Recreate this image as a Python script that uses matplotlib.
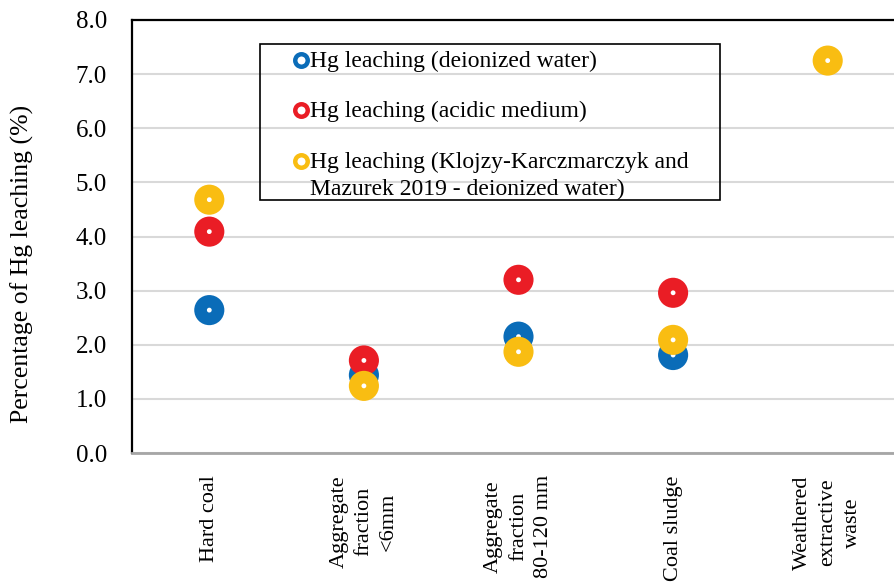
import matplotlib
matplotlib.use("Agg")
import matplotlib.pyplot as plt
from matplotlib.patches import Rectangle
from matplotlib.lines import Line2D

plt.rcParams['font.family'] = ['Liberation Serif', 'DejaVu Serif']

categories = ["Hard coal", "Aggregate\nfraction\n<6mm", "Aggregate\nfraction\n80-120 mm",
              "Coal sludge", "Weathered\nextractive\nwaste"]
deionized = [2.64, 1.44, 2.15, 1.81, None]
acidic = [4.09, 1.71, 3.20, 2.96, None]
klojzy = [4.68, 1.24, 1.87, 2.09, 7.25]

labels = ["Hg leaching (deionized water)",
          "Hg leaching (acidic medium)",
          "Hg leaching (Klojzy-Karczmarczyk and\nMazurek 2019 - deionized water)"]
colors = ["#0A6CB8", "#EA1D25", "#F9BD12"]

W, H = 894, 585
fig = plt.figure(figsize=(W / 100, H / 100), dpi=100)
ax = fig.add_axes([132 / W, 1 - 453 / H, (905 - 132) / W, (453 - 20) / H])

xs = list(range(1, len(categories) + 1))
for vals, c in zip([deionized, acidic, klojzy], colors):
    px = [x for x, v in zip(xs, vals) if v is not None]
    py = [v for v in vals if v is not None]
    ax.scatter(px, py, s=470, color=c, edgecolors='none', zorder=3)
    ax.scatter(px, py, s=12, color='white', edgecolors='none', zorder=3)

ax.set_xlim(0.5, len(categories) + 0.5)
ax.set_ylim(0, 8)
ax.set_yticks([i for i in range(9)])
ax.set_yticklabels([f"{i:.1f}" for i in range(9)], fontsize=18)
ax.set_xticks(xs)
ax.set_xticklabels(categories, rotation=90, fontsize=16, va='top', ha='center',
                   multialignment='center', linespacing=1.42)
ax.tick_params(axis='y', length=0, pad=18)
ax.tick_params(axis='x', length=0, pad=16)
ax.grid(axis='y', color='#D9D9D9', lw=1.5, zorder=0)
ax.set_axisbelow(True)
ax.set_ylabel("Percentage of Hg leaching (%)", fontsize=18.5, va='center')
ax.yaxis.set_label_coords(22 / W, 1 - 264 / H, transform=fig.transFigure)

for s in ['left', 'top', 'right']:
    ax.spines[s].set_color('black')
    ax.spines[s].set_linewidth(1.6)
ax.spines['bottom'].set_color('#A6A6A6')
ax.spines['bottom'].set_linewidth(2)

# legend box drawn by hand
fig.patches.append(Rectangle((260 / W, 1 - 200 / H), (720 - 260) / W, (200 - 44) / H,
                             transform=fig.transFigure, fill=False, ec='black', lw=1.2,
                             zorder=5))
rows = [60, 110, 161]
for lab, c, y in zip(labels, colors, rows):
    fig.lines.append(Line2D([301 / W], [1 - y / H], transform=fig.transFigure,
                            marker='o', ms=9, mfc='white', mec=c, mew=3.2, ls='none'))
    fig.text(310 / W, 1 - (y - 9) / H, lab, fontsize=17, va='top', ha='left',
             linespacing=1.35)

fig.savefig("out.png", dpi=100)
